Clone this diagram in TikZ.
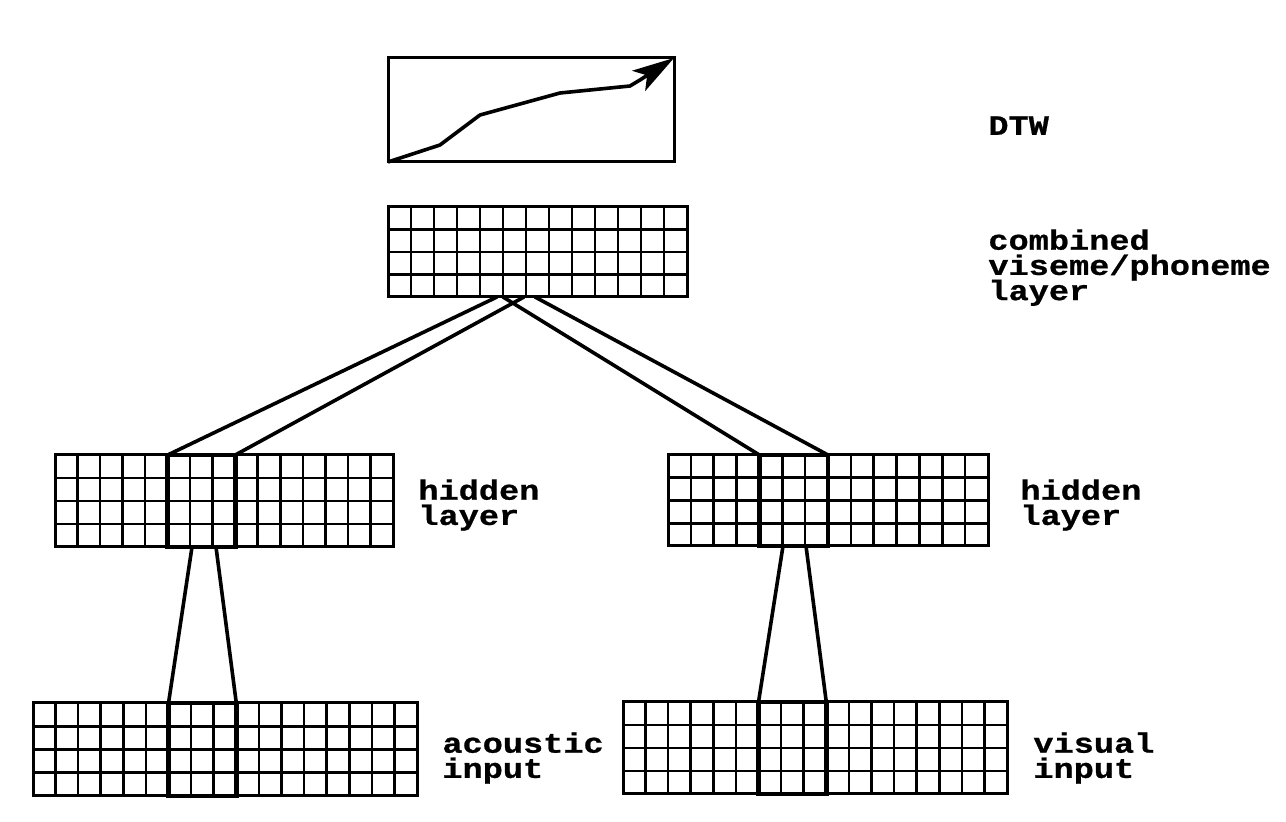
\documentclass[tikz,border=0pt]{standalone}
\usepackage{fontspec}
\newfontfamily\lblfont{Liberation Mono}[FakeStretch=1.2,FakeBold=0.8]
\usetikzlibrary{arrows.meta,calc}
\tikzset{
  gridline/.style={line width=1.3pt},
  layerbox/.style={draw, line width=1.5pt, inner sep=0pt, outer sep=0pt, anchor=north west},
  hilite/.style={draw, line width=2.3pt, inner sep=0pt, outer sep=0pt, anchor=north west},
  framebox/.style={draw, line width=1.5pt, inner sep=0pt, outer sep=0pt, anchor=north west},
  wire/.style={line width=1.8pt},
  lbl/.style={anchor=north west, inner sep=0pt, align=left,
    font={\lblfont\bfseries\fontsize{14}{12.6}\selectfont\lineskiplimit=-20pt}}
}
% #1 name, #2 x, #3 y, #4 number of inner vertical lines, #5 width, #6 height (px)
\newcommand\layergrid[6]{%
  \node[layerbox, minimum width=#5*0.5pt, minimum height=#6*0.5pt] (#1) at (#2,#3) {};
  \foreach \i in {1,...,#4}{%
    \draw[gridline] ($(#1.north west)!\i/(#4+1)!(#1.north east)$) -- ($(#1.south west)!\i/(#4+1)!(#1.south east)$);}
  \foreach \j in {1,2,3}{%
    \draw[gridline] ($(#1.north west)!\j/4!(#1.south west)$) -- ($(#1.north east)!\j/4!(#1.south east)$);}
}
\begin{document}
\begin{tikzpicture}[x=0.5pt,y=-0.5pt]
\useasboundingbox[fill=white] (0,0) rectangle (1286,822);

% DTW box with warping path
\node[framebox, minimum width=286*0.5pt, minimum height=104*0.5pt] (dtw) at (388,58) {};
\draw[wire, line join=round, -{Stealth[length=21pt,width=12pt,inset=5pt]}]
  (dtw.south west) -- (440,145) -- (480,115) -- (560,93) -- (630,86) -- (640,80) -- (dtw.north east);

% layers
\layergrid{comb}{388}{207}{12}{299}{90}
\layergrid{hidL}{55}{455}{14}{338}{92}
\layergrid{hidR}{668}{455}{13}{320}{91}
\layergrid{acou}{33}{703}{16}{384}{93}
\layergrid{visu}{623}{702}{16}{384}{92}

% highlighted receptive windows
\node[hilite, minimum width=3*338/15*0.5pt, minimum height=92*0.5pt] (hlHL) at ($(hidL.north west)!5/15!(hidL.north east)$) {};
\node[hilite, minimum width=3*320/14*0.5pt, minimum height=91*0.5pt] (hlHR) at ($(hidR.north west)!4/14!(hidR.north east)$) {};
\node[hilite, minimum width=3*384/17*0.5pt, minimum height=93*0.5pt] (hlAc) at ($(acou.north west)!6/17!(acou.north east)$) {};
\node[hilite, minimum width=3*384/17*0.5pt, minimum height=92*0.5pt] (hlVi) at ($(visu.north west)!6/17!(visu.north east)$) {};

% connection points
\coordinate (cA) at (497,297);
\coordinate (cB) at (524,297);
\coordinate (cC) at (503,297);
\coordinate (cD) at (535,297);
\coordinate (hA) at (192,547);
\coordinate (hB) at (216,547);
\coordinate (hC) at (783,546);
\coordinate (hD) at (806,546);

% connectors
\draw[wire] (hlHL.north west) -- (cA);
\draw[wire] (hlHL.north east) -- (cB);
\draw[wire] (hlHR.north west) -- (cC);
\draw[wire] (hlHR.north east) -- (cD);
\draw[wire] (hA) -- (hlAc.north west);
\draw[wire] (hB) -- (hlAc.north east);
\draw[wire] (hC) -- (hlVi.north west);
\draw[wire] (hD) -- (hlVi.north east);

% labels
\node[lbl] (tDTW) at (988,116) {DTW};
\node[lbl] (tComb) at (988,229) {combined\\viseme/phoneme\\layer};
\node[lbl] (tHidL) at (418,479) {hidden\\layer};
\node[lbl] (tHidR) at (1020,479) {hidden\\layer};
\node[lbl] (tAcou) at (442,732) {acoustic\\input};
\node[lbl] (tVisu) at (1033,732) {visual\\input};
\end{tikzpicture}
\end{document}
